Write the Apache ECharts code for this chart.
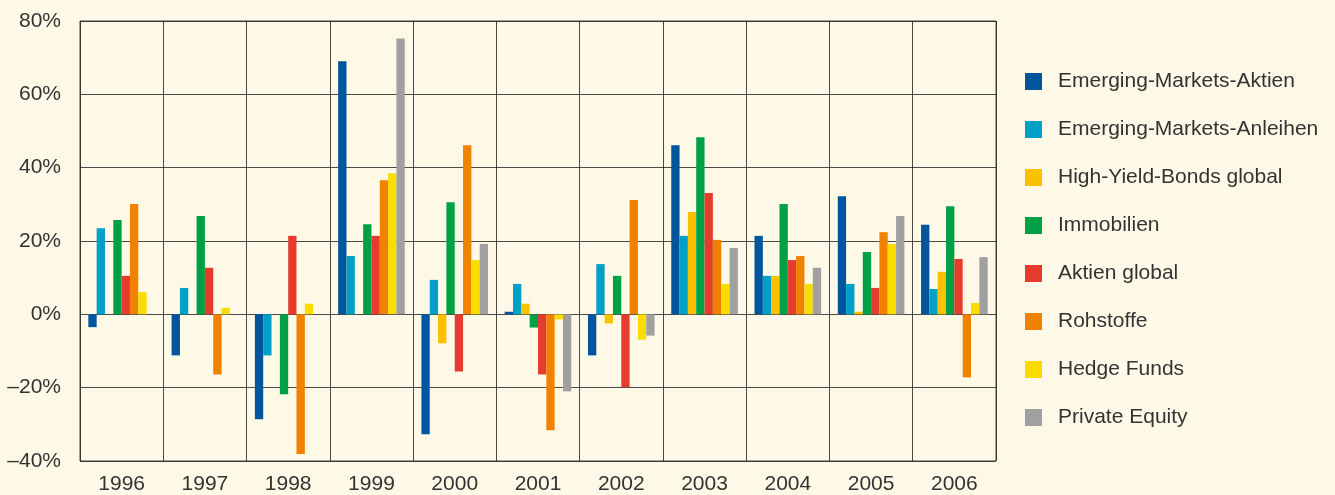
<!DOCTYPE html>
<html>
<head>
<meta charset="utf-8">
<script src="https://cdn.jsdelivr.net/npm/echarts@6/dist/echarts.min.js"></script>
<style>
    html, body { margin: 0; padding: 0; background: #fef9e6; }
    #chart { width: 1335px; height: 495px; }
</style>
</head>
<body>
<div id="chart"></div>
<script>
// years on the x axis
var years = ['1996', '1997', '1998', '1999', '2000', '2001', '2002', '2003', '2004', '2005', '2006'];

// yearly returns in %, '-' = no value
var emAktien    = [-3.5, -11.2, -28.6, 69.0, -32.7, 0.7, -11.2, 46.1, 21.4, 32.2, 24.4];
var emAnleihen  = [23.5, 7.2, -11.2, 15.9, 9.4, 8.3, 13.7, 21.4, 10.5, 8.3, 6.9];
var highYield   = ['-', '-', '-', '-', -7.9, 2.9, -2.5, 27.9, 10.5, 0.7, 11.6];
var immobilien  = [25.7, 26.8, -21.8, 24.6, 30.6, -3.6, 10.5, 48.3, 30.1, 17.0, 29.5];
var aktienGlob  = [10.5, 12.7, 21.4, 21.4, -15.6, -16.4, -19.9, 33.1, 14.8, 7.2, 15.1];
var rohstoffe   = [30.1, -16.4, -38.1, 36.6, 46.1, -31.6, 31.2, 20.3, 15.9, 22.4, -17.2];
var hedgeFunds  = [6.1, 1.8, 2.9, 38.5, 14.8, -1.4, -6.9, 8.3, 8.3, 19.2, 3.1];
var privEquity  = ['-', '-', '-', 75.2, 19.2, -21.0, -5.8, 18.1, 12.7, 26.8, 15.6];

var names = ['Emerging-Markets-Aktien', 'Emerging-Markets-Anleihen', 'High-Yield-Bonds global',
             'Immobilien', 'Aktien global', 'Rohstoffe', 'Hedge Funds', 'Private Equity'];
var colors = ['#00559d', '#00a0c8', '#fbc000', '#00a046', '#e63c2d', '#f08200', '#fadc00', '#a0a0a0'];
var values = [emAktien, emAnleihen, highYield, immobilien, aktienGlob, rohstoffe, hedgeFunds, privEquity];

var fontFamily = '"Liberation Sans", Arial, sans-serif';
var gridLine = { show: true, lineStyle: { color: 'rgba(30,30,30,0.8)', width: 1 } };

var chart = echarts.init(document.getElementById('chart'));
chart.setOption({
    backgroundColor: '#fef9e6',
    animation: false,
    color: colors,
    textStyle: { fontFamily: fontFamily },
    grid: { left: 80, right: 339, top: 21, bottom: 33, show: true, borderColor: 'rgba(30,30,30,0.8)', borderWidth: 1 },
    legend: {
        orient: 'vertical',
        left: 1020,
        top: 66,
        itemWidth: 17,
        itemHeight: 17,
        itemGap: 27,
        icon: 'rect',
        data: names,
        textStyle: { fontSize: 21, color: '#333', padding: [0, 0, 0, 11] }
    },
    xAxis: {
        type: 'category',
        data: years,
        axisLine: { show: false },
        axisTick: { show: false },
        splitLine: gridLine,
        axisLabel: { fontSize: 21, color: '#333', margin: 13 }
    },
    yAxis: {
        type: 'value',
        min: -40,
        max: 80,
        interval: 20,
        axisLine: { show: false },
        axisTick: { show: false },
        splitLine: gridLine,
        axisLabel: {
            fontSize: 21, color: '#333', margin: 19,
            formatter: function (v) { return (v < 0 ? '\u2013' + Math.abs(v) : v) + '%'; }
        }
    },
    series: values.map(function (d, i) {
        return {
            name: names[i],
            type: 'bar',
            data: d,
            barGap: '0%',
            barCategoryGap: '20%'
        };
    })
});
</script>
</body>
</html>
